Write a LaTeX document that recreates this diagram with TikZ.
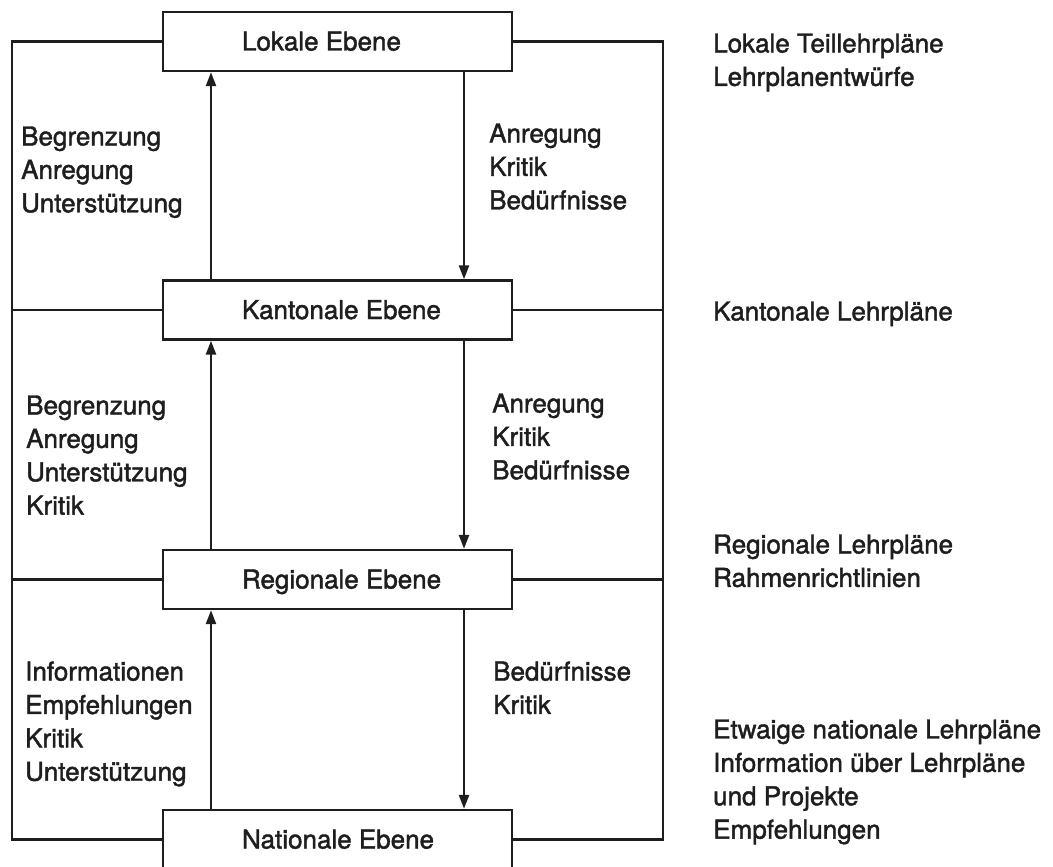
\documentclass[tikz,border=0pt]{standalone}
\usepackage{fontspec}
\setmainfont{TeX Gyre Heros}
\newfontfamily\labfam{TeX Gyre Heros}[FakeBold=1.6]
\usetikzlibrary{arrows.meta}
\definecolor{ink}{HTML}{1E1E1E}
\newcommand{\labfont}{\labfam\fontsize{26}{33.4}\selectfont}
\begin{document}
\begin{tikzpicture}[x=1pt,y=-1pt,
  stroke/.style={draw=ink, line width=2.4pt},
  level/.style={stroke, minimum width=349pt, minimum height=59pt, inner sep=0pt,
    text height=18pt, text depth=0pt, font=\labfont, text=ink},
  arr/.style={stroke, -{Triangle[length=14pt,width=10pt]}},
  lbl/.style={anchor=north west, yshift=18.7pt, inner sep=0pt, align=left,
    font=\labfont, text=ink}]
\useasboundingbox[fill=white] (0,0) rectangle (1053,867);

% level boxes
\node[level] (L) at (337.5,41.5) {\makebox[349pt][l]{\hspace{79pt}Lokale Ebene}};
\node[level] (K) at (337.5,310) {\makebox[349pt][l]{\hspace{79pt}Kantonale Ebene}};
\node[level] (R) at (337.5,579.5) {\makebox[349pt][l]{\hspace{79pt}Regionale Ebene}};
\node[level] (N) at (337.5,839.5) {\makebox[349pt][l]{\hspace{79pt}Nationale Ebene}};

% frame
\coordinate (fl) at (12,0);
\coordinate (fr) at (663,0);
\draw[stroke] (L.west) -- (L.west -| fl) -- (N.west -| fl) -- (N.west);
\draw[stroke] (K.west) -- (K.west -| fl);
\draw[stroke] (R.west) -- (R.west -| fl);
\draw[stroke] (L.east) -- (L.east -| fr) -- (N.east -| fr) -- (N.east);
\draw[stroke] (K.east) -- (K.east -| fr);
\draw[stroke] (R.east) -- (R.east -| fr);

% arrows
\coordinate (ua) at (211,0);
\coordinate (da) at (464,0);
\draw[arr] (K.north -| ua) -- (L.south -| ua);
\draw[arr] (R.north -| ua) -- (K.south -| ua);
\draw[arr] (N.north -| ua) -- (R.south -| ua);
\draw[arr] (L.south -| da) -- (K.north -| da);
\draw[arr] (K.south -| da) -- (R.north -| da);
\draw[arr] (R.south -| da) -- (N.north -| da);

% flow labels
\node[lbl] (up1) at (21,145) {Begrenzung\\Anregung\\Unterstützung};
\node[lbl] (dn1) at (489,142) {Anregung\\Kritik\\Bedürfnisse};
\node[lbl] (up2) at (26,414) {Begrenzung\\Anregung\\Unterstützung\\Kritik};
\node[lbl] (dn2) at (492,412) {Anregung\\Kritik\\Bedürfnisse};
\node[lbl] (up3) at (25,680) {Informationen\\Empfehlungen\\Kritik\\Unterstützung};
\node[lbl] (dn3) at (493,680) {Bedürfnisse\\Kritik};

% products
\node[lbl] (pL) at (713,52) {Lokale Teillehrpläne\\Lehrplanentwürfe};
\node[lbl] (pK) at (713,320) {Kantonale Lehrpläne};
\node[lbl] (pR) at (713,553) {Regionale Lehrpläne\\Rahmenrichtlinien};
\node[lbl] (pN) at (713,738) {Etwaige nationale Lehrpläne\\Information über Lehrpläne\\und Projekte\\Empfehlungen};
\end{tikzpicture}
\end{document}
